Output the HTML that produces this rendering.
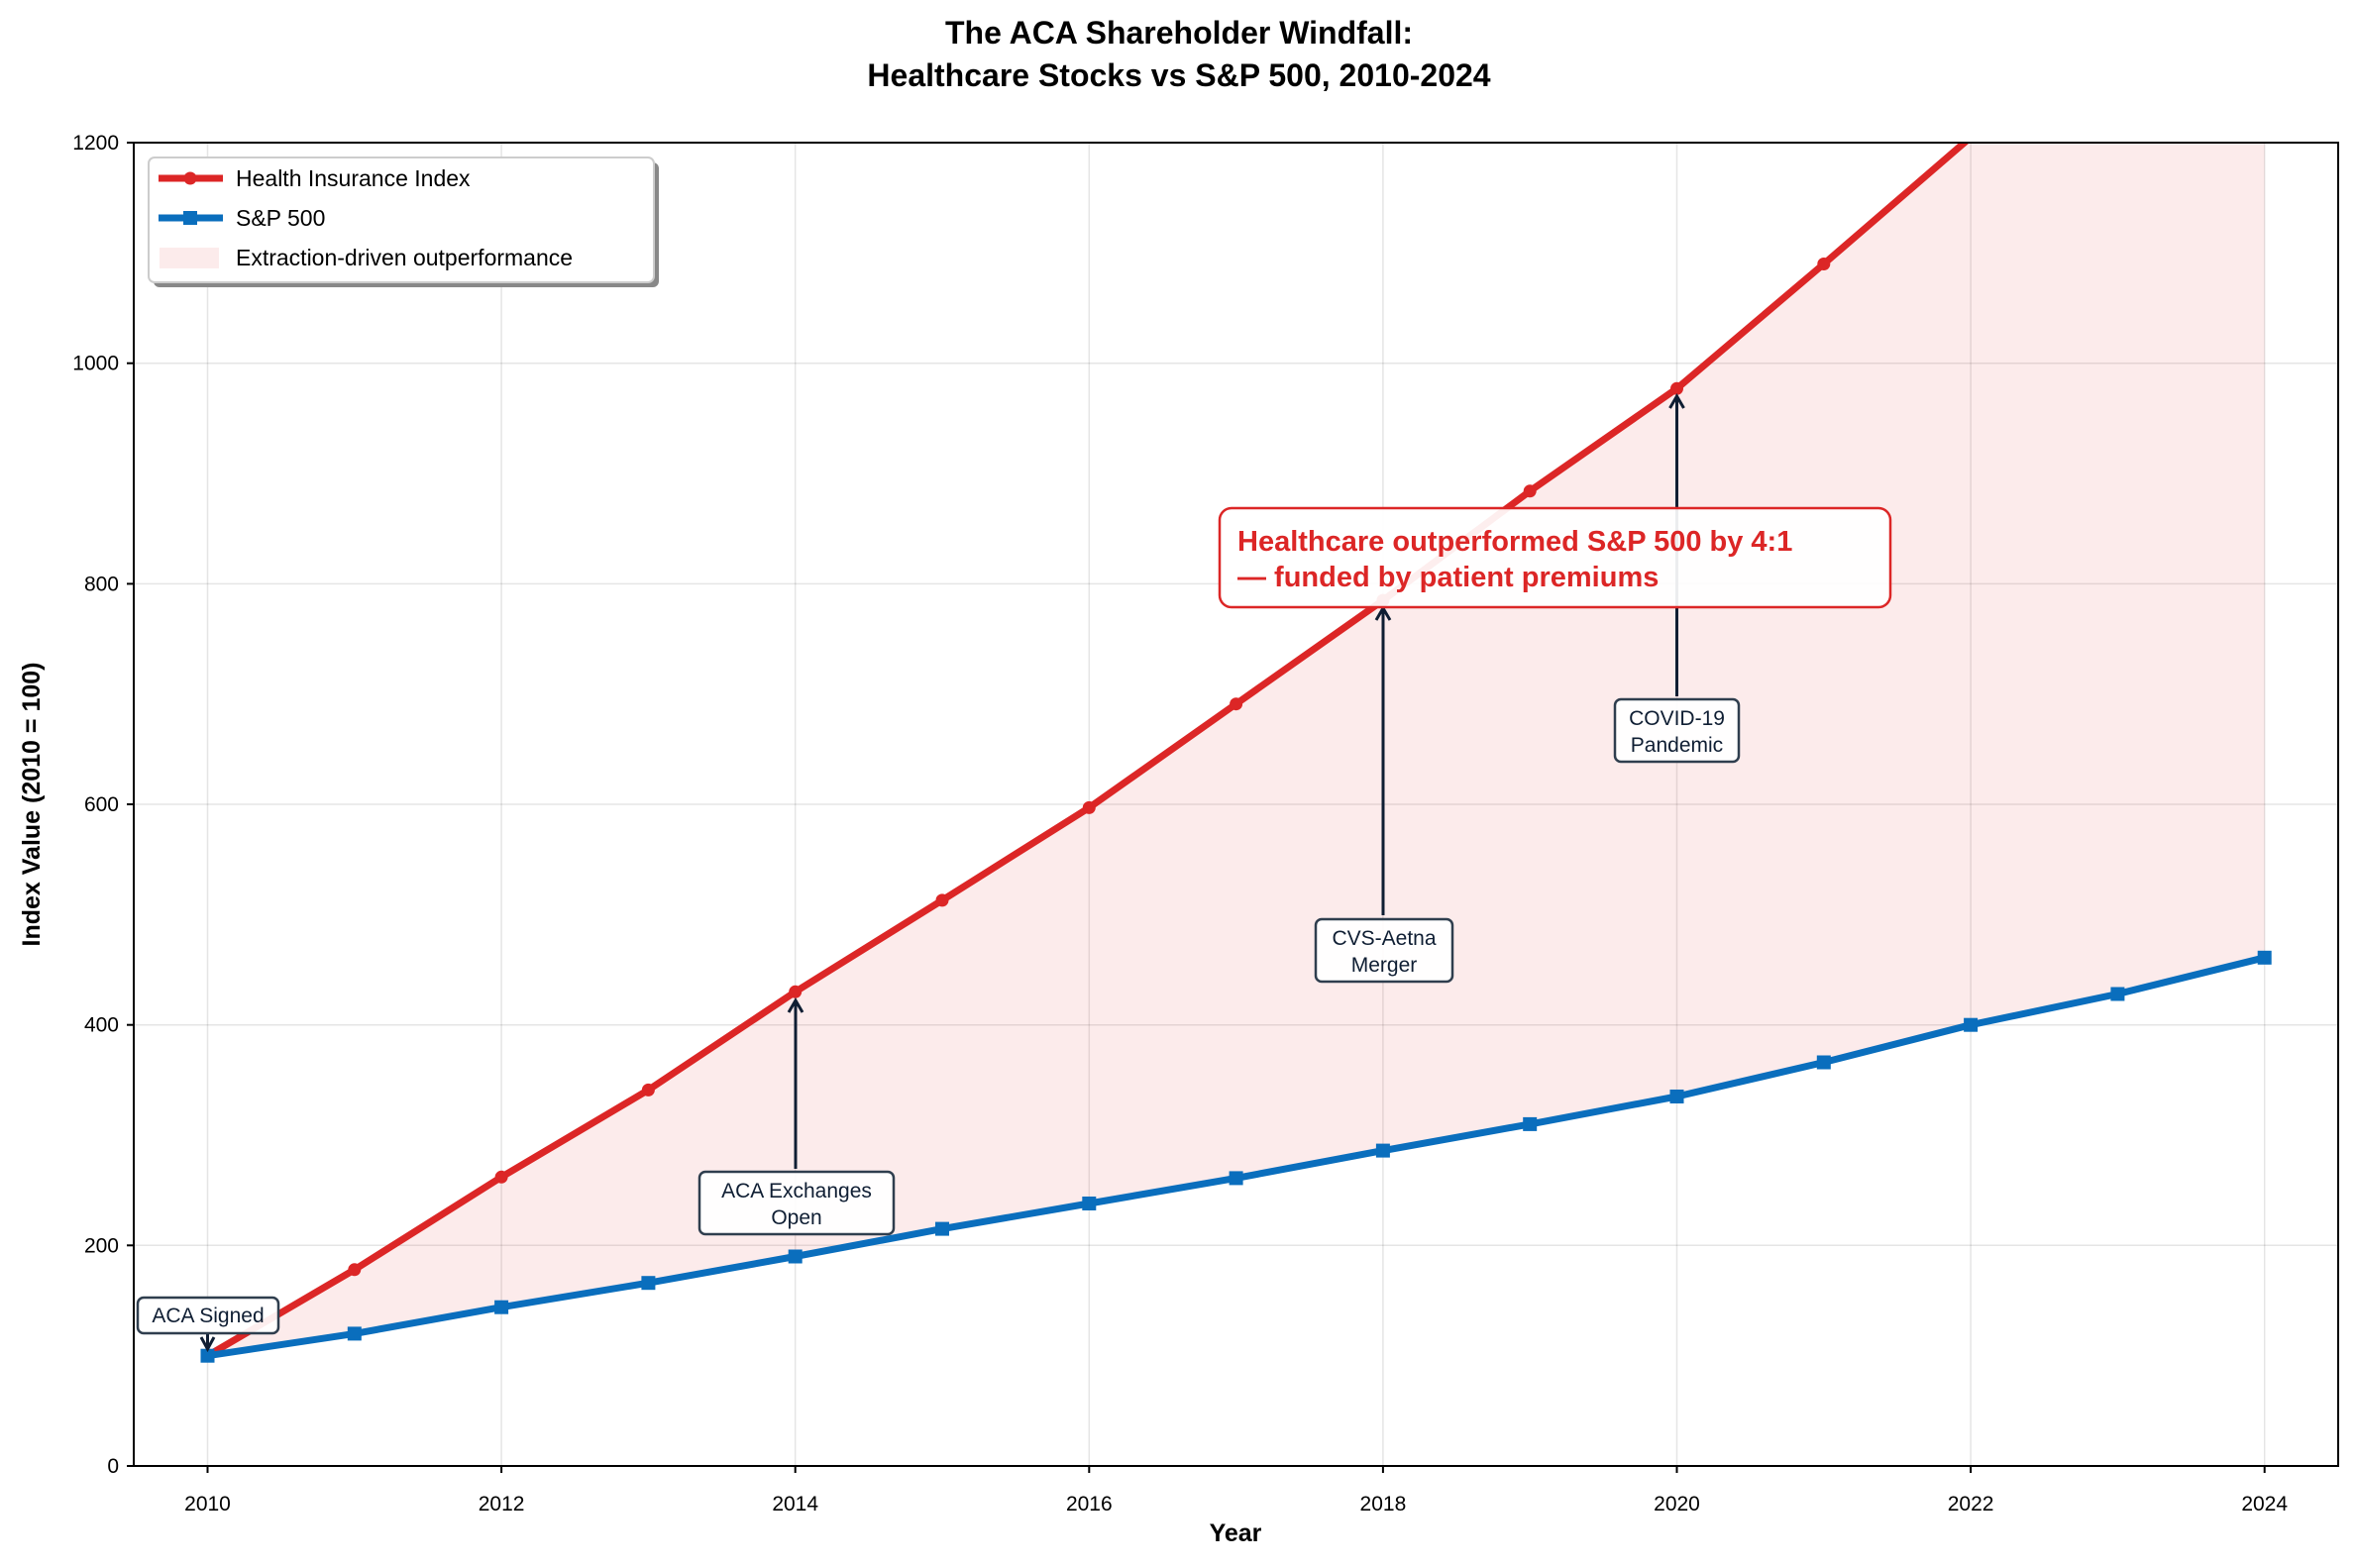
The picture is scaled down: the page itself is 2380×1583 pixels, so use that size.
<!DOCTYPE html>
<html><head><meta charset="utf-8"><style>html,body{margin:0;padding:0;background:#fff}svg{display:block}</style></head>
<body>
<svg width="2380" height="1583" viewBox="0 0 2380 1583" xmlns="http://www.w3.org/2000/svg" font-family="Liberation Sans, Arial, sans-serif">
<defs><clipPath id="ax"><rect x="135" y="144" width="2225" height="1336"/></clipPath></defs>
<rect width="2380" height="1583" fill="#fff"/>
<g stroke="#000" stroke-opacity="0.1" stroke-width="1.5">
<line x1="209.5" y1="144" x2="209.5" y2="1480"/><line x1="506.1" y1="144" x2="506.1" y2="1480"/><line x1="802.7" y1="144" x2="802.7" y2="1480"/><line x1="1099.3" y1="144" x2="1099.3" y2="1480"/><line x1="1395.9" y1="144" x2="1395.9" y2="1480"/><line x1="1692.5" y1="144" x2="1692.5" y2="1480"/><line x1="1989.1" y1="144" x2="1989.1" y2="1480"/><line x1="2285.7" y1="144" x2="2285.7" y2="1480"/>
<line x1="135" y1="1257.3" x2="2360" y2="1257.3"/><line x1="135" y1="1034.7" x2="2360" y2="1034.7"/><line x1="135" y1="812" x2="2360" y2="812"/><line x1="135" y1="589.4" x2="2360" y2="589.4"/><line x1="135" y1="366.7" x2="2360" y2="366.7"/>
</g>
<g clip-path="url(#ax)">
<polygon fill="#e02525" fill-opacity="0.09" points="209.5,1368.7 357.8,1281.8 506.1,1188.3 654.4,1100.4 802.7,1001.3 951,908.9 1099.3,815.4 1247.6,710.7 1395.9,606.1 1544.2,495.8 1692.5,392.3 1840.8,266.5 1989.1,138.5 2137.4,-0.7 2285.7,-145.4 2285.7,966.8 2137.4,1003.5 1989.1,1034.7 1840.8,1072.5 1692.5,1107 1544.2,1134.9 1395.9,1161.6 1247.6,1189.4 1099.3,1215 951,1240.6 802.7,1268.5 654.4,1295.2 506.1,1319.7 357.8,1346.4 209.5,1368.7"/>
<polyline fill="none" stroke="#dc2626" stroke-width="7" stroke-linejoin="round" points="209.5,1368.7 357.8,1281.8 506.1,1188.3 654.4,1100.4 802.7,1001.3 951,908.9 1099.3,815.4 1247.6,710.7 1395.9,606.1 1544.2,495.8 1692.5,392.3 1840.8,266.5 1989.1,138.5 2137.4,-0.7 2285.7,-145.4"/>
<g fill="#dc2626"><circle cx="209.5" cy="1368.7" r="6.5"/><circle cx="357.8" cy="1281.8" r="6.5"/><circle cx="506.1" cy="1188.3" r="6.5"/><circle cx="654.4" cy="1100.4" r="6.5"/><circle cx="802.7" cy="1001.3" r="6.5"/><circle cx="951" cy="908.9" r="6.5"/><circle cx="1099.3" cy="815.4" r="6.5"/><circle cx="1247.6" cy="710.7" r="6.5"/><circle cx="1395.9" cy="606.1" r="6.5"/><circle cx="1544.2" cy="495.8" r="6.5"/><circle cx="1692.5" cy="392.3" r="6.5"/><circle cx="1840.8" cy="266.5" r="6.5"/><circle cx="1989.1" cy="138.5" r="6.5"/></g>
<polyline fill="none" stroke="#0a6ebd" stroke-width="7" stroke-linejoin="round" points="209.5,1368.7 357.8,1346.4 506.1,1319.7 654.4,1295.2 802.7,1268.5 951,1240.6 1099.3,1215 1247.6,1189.4 1395.9,1161.6 1544.2,1134.9 1692.5,1107 1840.8,1072.5 1989.1,1034.7 2137.4,1003.5 2285.7,966.8"/>
<g fill="#0a6ebd"><rect x="202.5" y="1361.7" width="14" height="14"/><rect x="350.8" y="1339.4" width="14" height="14"/><rect x="499.1" y="1312.7" width="14" height="14"/><rect x="647.4" y="1288.2" width="14" height="14"/><rect x="795.7" y="1261.5" width="14" height="14"/><rect x="944" y="1233.6" width="14" height="14"/><rect x="1092.3" y="1208" width="14" height="14"/><rect x="1240.6" y="1182.4" width="14" height="14"/><rect x="1388.9" y="1154.6" width="14" height="14"/><rect x="1537.2" y="1127.9" width="14" height="14"/><rect x="1685.5" y="1100" width="14" height="14"/><rect x="1833.8" y="1065.5" width="14" height="14"/><rect x="1982.1" y="1027.7" width="14" height="14"/><rect x="2130.4" y="996.5" width="14" height="14"/><rect x="2278.7" y="959.8" width="14" height="14"/></g>
</g>
<rect x="135" y="144" width="2225" height="1336" fill="none" stroke="#000" stroke-width="2"/>
<g stroke="#000" stroke-width="2">
<line x1="209.5" y1="1480" x2="209.5" y2="1487"/><line x1="506.1" y1="1480" x2="506.1" y2="1487"/><line x1="802.7" y1="1480" x2="802.7" y2="1487"/><line x1="1099.3" y1="1480" x2="1099.3" y2="1487"/><line x1="1395.9" y1="1480" x2="1395.9" y2="1487"/><line x1="1692.5" y1="1480" x2="1692.5" y2="1487"/><line x1="1989.1" y1="1480" x2="1989.1" y2="1487"/><line x1="2285.7" y1="1480" x2="2285.7" y2="1487"/>
<line x1="128" y1="1480" x2="135" y2="1480"/><line x1="128" y1="1257.3" x2="135" y2="1257.3"/><line x1="128" y1="1034.7" x2="135" y2="1034.7"/><line x1="128" y1="812" x2="135" y2="812"/><line x1="128" y1="589.4" x2="135" y2="589.4"/><line x1="128" y1="366.7" x2="135" y2="366.7"/><line x1="128" y1="144" x2="135" y2="144"/>
</g>
<g font-size="21" fill="#000" text-anchor="middle">
<text x="209.5" y="1525">2010</text><text x="506.1" y="1525">2012</text><text x="802.7" y="1525">2014</text><text x="1099.3" y="1525">2016</text><text x="1395.9" y="1525">2018</text><text x="1692.5" y="1525">2020</text><text x="1989.1" y="1525">2022</text><text x="2285.7" y="1525">2024</text>
</g>
<g font-size="21" fill="#000" text-anchor="end">
<text x="120" y="1487">0</text><text x="120" y="1264.3">200</text><text x="120" y="1041.7">400</text><text x="120" y="819">600</text><text x="120" y="596.4">800</text><text x="120" y="373.7">1000</text><text x="120" y="151">1200</text>
</g>
<text x="1247" y="1556" font-size="25" font-weight="bold" text-anchor="middle">Year</text>
<text transform="translate(40,812) rotate(-90)" font-size="25" font-weight="bold" text-anchor="middle">Index Value (2010 = 100)</text>
<text x="1190" y="44" font-size="32" font-weight="bold" text-anchor="middle">The ACA Shareholder Windfall:</text>
<text x="1190" y="87" font-size="32" font-weight="bold" text-anchor="middle">Healthcare Stocks vs S&amp;P 500, 2010-2024</text>
<rect x="155" y="164" width="510" height="126" rx="6" fill="#888"/>
<rect x="150" y="159" width="510" height="126" rx="6" fill="#fff" stroke="#ccc" stroke-width="2"/>
<line x1="160" y1="180" x2="225" y2="180" stroke="#dc2626" stroke-width="7"/><circle cx="192" cy="180" r="6.5" fill="#dc2626"/>
<line x1="160" y1="220" x2="225" y2="220" stroke="#0a6ebd" stroke-width="7"/><rect x="185" y="213" width="14" height="14" fill="#0a6ebd"/>
<rect x="161" y="250" width="60" height="21" fill="#e02525" fill-opacity="0.09"/>
<g font-size="23" fill="#000"><text x="238" y="188">Health Insurance Index</text><text x="238" y="228">S&amp;P 500</text><text x="238" y="268">Extraction-driven outperformance</text></g>
<g stroke="#0f1e33" stroke-width="3" fill="none">
<line x1="209.5" y1="1345" x2="209.5" y2="1362"/><polyline points="203,1350 209.5,1362 216,1350"/>
<line x1="803" y1="1180" x2="803" y2="1010"/><polyline points="796,1022 803,1010 810,1022"/>
<line x1="1396" y1="924" x2="1396" y2="614"/><polyline points="1389,626 1396,614 1403,626"/>
<line x1="1692.5" y1="703" x2="1692.5" y2="400"/><polyline points="1685.5,412 1692.5,400 1699.5,412"/>
</g>
<g fill="#fff" fill-opacity="0.92" stroke="#2f3e4e" stroke-width="2.5">
<rect x="139" y="1310" width="142" height="36" rx="6"/>
<rect x="706" y="1183" width="196" height="63" rx="6"/>
<rect x="1328" y="928" width="138" height="63" rx="6"/>
<rect x="1630" y="706" width="125" height="63" rx="6"/>
</g>
<g font-size="21" fill="#0f1e33" text-anchor="middle">
<text x="210" y="1335">ACA Signed</text>
<text x="804" y="1209">ACA Exchanges</text><text x="804" y="1236">Open</text>
<text x="1397" y="954">CVS-Aetna</text><text x="1397" y="981">Merger</text>
<text x="1692.5" y="732">COVID-19</text><text x="1692.5" y="759">Pandemic</text>
</g>
<rect x="1231" y="513" width="677" height="100" rx="12" fill="#fff" fill-opacity="0.92" stroke="#dc2626" stroke-width="2.5"/>
<g font-size="29" font-weight="bold" fill="#dc2626"><text x="1249" y="556">Healthcare outperformed S&amp;P 500 by 4:1</text><text x="1249" y="592">— funded by patient premiums</text></g>
</svg>
</body></html>
